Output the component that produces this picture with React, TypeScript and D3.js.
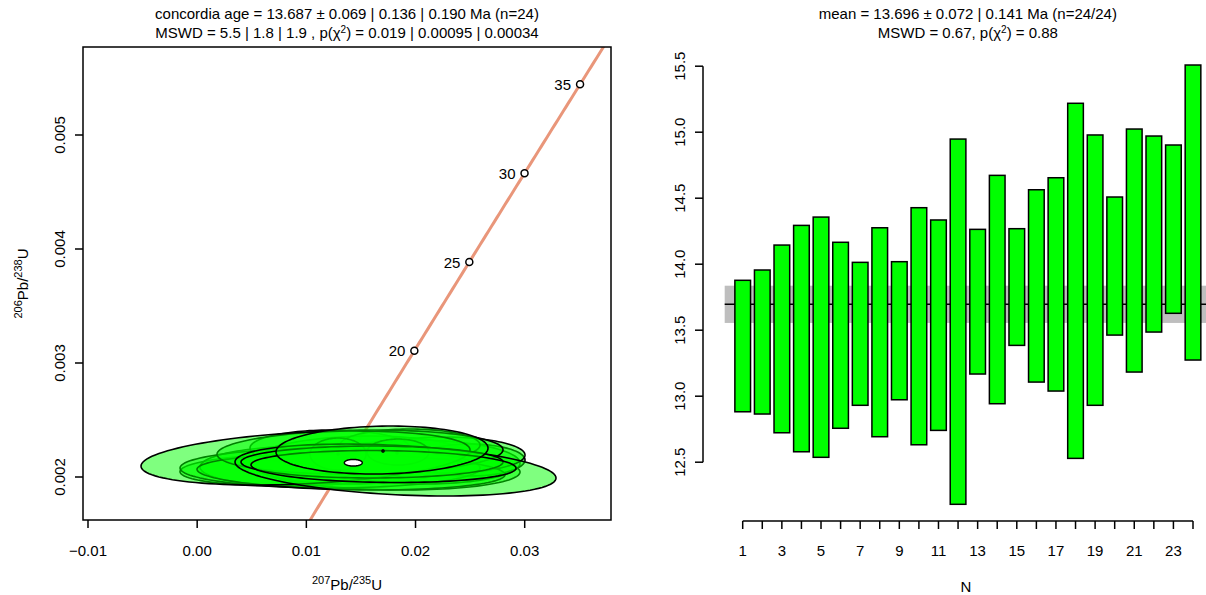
import React, { useRef, useEffect } from "react";
import * as d3 from "d3";

const W = 1206;
const H = 595;
const FONT = "'Liberation Sans', Arial, Helvetica, sans-serif";
const FS = 15;

// concordia panel: 24 aliquots (207Pb/235U, 206Pb/238U), 95% half-widths, error correlation
const pb7u5 = [0.008503, 0.009419, 0.017664, 0.014915, 0.020412, 0.024991, 0.022701, 0.012168, 0.019495, 0.009877, 0.015648, 0.012168, 0.014091, 0.014915, 0.0129, 0.018396, 0.0129, 0.018305, 0.009923, 0.018167, 0.016015, 0.017068, 0.016931, 0.017022];
const pb7u5Err = [0.010076, 0.00916, 0.011908, 0.010076, 0.00916, 0.005038, 0.007328, 0.007328, 0.006412, 0.00009, 0.00009, 0.01374, 0.014107, 0.013099, 0.002565, 0.00284, 0.00009, 0.00009, 0.015068, 0.014702, 0.012, 0.012137, 0.00971, 0.00009];
const pb6u8 = [0.0020613, 0.0020964, 0.0020613, 0.0021489, 0.0021314, 0.0021489, 0.0021928, 0.0022541, 0.0022804, 0.0021489, 0.0021665, 0.0020789, 0.0020438, 0.002219, 0.0022015, 0.002219, 0.0022015, 0.0022103, 0.0021665, 0.0020613, 0.0021314, 0.002092, 0.0022366, 0.0022278];
const pb6u8Err = [0.0001402, 0.0001752, 0.0001752, 0.0002103, 0.0001928, 0.0001402, 0.0001577, 0.0001577, 0.0001402, 0.000009, 0.000009, 0.0001752, 0.0001577, 0.0001928, 0.0001402, 0.0001139, 0.000009, 0.000009, 0.0002366, 0.0002278, 0.0001402, 0.0001402, 0.0002103, 0.000009];
const rho = [0.1, 0.05, -0.1, 0.1, -0.05, 0, 0, 0, 0, 0, 0, 0, -0.15, 0.1, 0, 0, 0, 0, 0.3, -0.31, 0, -0.1, 0.08, 0];

// concordia age ellipse: x, sx, y, sy
const ageEllipse = [0.0143, 0.00082, 0.002125, 0.000029];
const ageTicks = [20, 25, 30, 35];
const xTicksL = [-0.01, 0, 0.01, 0.02, 0.03];
const xLabelsL = ["\u22120.01", "0.00", "0.01", "0.02", "0.03"];
const yTicksL = [0.002, 0.003, 0.004, 0.005];
const yLabelsL = ["0.002", "0.003", "0.004", "0.005"];

// weighted mean panel
const ageLo = [12.882, 12.865, 12.723, 12.579, 12.537, 12.757, 12.931, 12.693, 12.973, 12.632, 12.741, 12.181, 13.168, 12.943, 13.385, 13.107, 13.039, 12.529, 12.931, 13.463, 13.183, 13.486, 13.628, 13.274];
const ageHi = [13.878, 13.956, 14.145, 14.294, 14.357, 14.166, 14.014, 14.276, 14.019, 14.428, 14.335, 14.948, 14.264, 14.673, 14.269, 14.564, 14.655, 15.219, 14.979, 14.509, 15.024, 14.971, 14.903, 15.509];
const meanAge = 13.696;
const meanErr = 0.141;
const yTicksR = [12.5, 13.0, 13.5, 14.0, 14.5, 15.0, 15.5];
const nLabels = [1, 3, 5, 7, 9, 11, 13, 15, 17, 19, 21, 23];

const L238 = 1.55125e-10;
const L235 = 9.8485e-10;

type Part = [string, boolean];

function rich(sel: any, parts: Part[], supSize: number, rise: number) {
  let up = false;
  parts.forEach(([s, sup]) => {
    const t = sel.append("tspan").text(s);
    if (sup && !up) t.attr("dy", -rise).attr("font-size", supSize);
    else if (sup) t.attr("font-size", supSize);
    else if (up) t.attr("dy", rise);
    up = sup;
  });
}

const App = () => {
  const svgRef = useRef<SVGSVGElement>(null);

  useEffect(() => {
    const svg = d3.select(svgRef.current);
    svg.selectAll("*").remove();
    svg.append("rect").attr("width", W).attr("height", H).attr("fill", "white");

    // ---------------- left: concordia ----------------
    const box = { x0: 83, x1: 611, y0: 47, y1: 520 };
    const x = d3.scaleLinear().domain([-0.01, 0.03]).range([88, 524.7]);
    const y = d3.scaleLinear().domain([0.002, 0.005]).range([477, 135]);

    svg.append("clipPath").attr("id", "clipL")
      .append("rect").attr("x", box.x0).attr("y", box.y0)
      .attr("width", box.x1 - box.x0).attr("height", box.y1 - box.y0);

    const plot = svg.append("g").attr("clip-path", "url(#clipL)");

    const ages = d3.range(0, 50.01, 0.25);
    const curve = d3.line<number>()
      .x(t => x(Math.exp(t * 1e6 * L235) - 1))
      .y(t => y(Math.exp(t * 1e6 * L238) - 1));
    plot.append("path").attr("d", curve(ages))
      .attr("fill", "none").attr("stroke", "#E9967A").attr("stroke-width", 3);

    ageTicks.forEach(t => {
      const px = x(Math.exp(t * 1e6 * L235) - 1);
      const py = y(Math.exp(t * 1e6 * L238) - 1);
      plot.append("circle").attr("cx", px).attr("cy", py).attr("r", 3.5)
        .attr("fill", "white").attr("stroke", "black").attr("stroke-width", 1.5);
      plot.append("text").attr("x", px - 9).attr("y", py)
        .attr("text-anchor", "end").attr("dominant-baseline", "central")
        .attr("font-family", FONT).attr("font-size", FS).text(t);
    });

    const theta = d3.range(0, 2 * Math.PI, Math.PI / 60);
    const ell = (cx: number, sx: number, cy: number, sy: number, r: number) =>
      d3.line<number>().curve(d3.curveLinearClosed)
        .x(t => x(cx + sx * Math.cos(t)))
        .y(t => y(cy + sy * (r * Math.cos(t) + Math.sqrt(1 - r * r) * Math.sin(t))))(theta);

    pb7u5.forEach((_, i) => {
      plot.append("path")
        .attr("d", ell(pb7u5[i], pb7u5Err[i], pb6u8[i], pb6u8Err[i], rho[i]))
        .attr("fill", "rgba(0,255,0,0.5)")
        .attr("stroke", "black").attr("stroke-width", 1.6);
    });

    plot.append("path")
      .attr("d", ell(ageEllipse[0], ageEllipse[1], ageEllipse[2], ageEllipse[3], 0))
      .attr("fill", "white").attr("stroke", "black").attr("stroke-width", 1.5);

    svg.append("rect").attr("x", box.x0).attr("y", box.y0)
      .attr("width", box.x1 - box.x0).attr("height", box.y1 - box.y0)
      .attr("fill", "none").attr("stroke", "black").attr("stroke-width", 1.5);

    // x axis
    xTicksL.forEach((v, i) => {
      svg.append("line").attr("x1", x(v)).attr("x2", x(v))
        .attr("y1", box.y1).attr("y2", box.y1 + 8).attr("stroke", "black").attr("stroke-width", 1.5);
      svg.append("text").attr("x", x(v)).attr("y", 556)
        .attr("text-anchor", "middle").attr("font-family", FONT).attr("font-size", FS)
        .text(xLabelsL[i]);
    });
    // y axis
    yTicksL.forEach((v, i) => {
      svg.append("line").attr("x1", box.x0 - 8).attr("x2", box.x0)
        .attr("y1", y(v)).attr("y2", y(v)).attr("stroke", "black").attr("stroke-width", 1.5);
      svg.append("text")
        .attr("transform", `translate(${box.x0 - 18},${y(v)}) rotate(-90)`)
        .attr("text-anchor", "middle").attr("font-family", FONT).attr("font-size", FS)
        .text(yLabelsL[i]);
    });

    const xt = svg.append("text").attr("x", (box.x0 + box.x1) / 2).attr("y", 590)
      .attr("text-anchor", "middle").attr("font-family", FONT).attr("font-size", FS);
    rich(xt, [["207", true], ["Pb/", false], ["235", true], ["U", false]], 11, 6);

    const yt = svg.append("text")
      .attr("transform", `translate(28,${(box.y0 + box.y1) / 2}) rotate(-90)`)
      .attr("text-anchor", "middle").attr("font-family", FONT).attr("font-size", FS);
    rich(yt, [["206", true], ["Pb/", false], ["238", true], ["U", false]], 11, 6);

    const cxL = (box.x0 + box.x1) / 2;
    svg.append("text").attr("x", cxL).attr("y", 19)
      .attr("text-anchor", "middle").attr("font-family", FONT).attr("font-size", FS)
      .text("concordia age = 13.687 \u00b1 0.069 | 0.136 | 0.190 Ma (n=24)");
    const t2 = svg.append("text").attr("x", cxL).attr("y", 38)
      .attr("text-anchor", "middle").attr("font-family", FONT).attr("font-size", FS);
    rich(t2, [["MSWD = 5.5 | 1.8 | 1.9 , p(\u03c7", false], ["2", true], [") = 0.019 | 0.00095 | 0.00034", false]], 10, 5);

    // ---------------- right: weighted mean ----------------
    const xn = d3.scaleLinear().domain([1, 24]).range([742.7, 1193]);
    const ya = d3.scaleLinear().domain([12.5, 15.5]).range([462.2, 66.2]);
    const left = xn(0.08);
    const right = xn(24.92);

    svg.append("rect").attr("x", left).attr("width", right - left)
      .attr("y", ya(meanAge + meanErr)).attr("height", ya(meanAge - meanErr) - ya(meanAge + meanErr))
      .attr("fill", "#BEBEBE");
    svg.append("line").attr("x1", left).attr("x2", right)
      .attr("y1", ya(meanAge)).attr("y2", ya(meanAge))
      .attr("stroke", "black").attr("stroke-width", 1.5);

    ageLo.forEach((lo, i) => {
      const n = i + 1;
      svg.append("rect").attr("x", xn(n - 0.4)).attr("width", xn(n + 0.4) - xn(n - 0.4))
        .attr("y", ya(ageHi[i])).attr("height", ya(lo) - ya(ageHi[i]))
        .attr("fill", "#00FF00").attr("stroke", "black").attr("stroke-width", 1.5);
    });

    const axY = 521;
    svg.append("line").attr("x1", xn(1)).attr("x2", xn(24)).attr("y1", axY).attr("y2", axY)
      .attr("stroke", "black").attr("stroke-width", 1.5);
    d3.range(1, 25).forEach(n => {
      svg.append("line").attr("x1", xn(n)).attr("x2", xn(n)).attr("y1", axY).attr("y2", axY + 8)
        .attr("stroke", "black").attr("stroke-width", 1.5);
    });
    nLabels.forEach(n => {
      svg.append("text").attr("x", xn(n)).attr("y", 556)
        .attr("text-anchor", "middle").attr("font-family", FONT).attr("font-size", FS).text(n);
    });
    svg.append("text").attr("x", (left + right) / 2 - 2).attr("y", 592)
      .attr("text-anchor", "middle").attr("font-family", FONT).attr("font-size", FS).text("N");

    const axX = 703;
    svg.append("line").attr("x1", axX).attr("x2", axX).attr("y1", ya(12.5)).attr("y2", ya(15.5))
      .attr("stroke", "black").attr("stroke-width", 1.5);
    yTicksR.forEach(v => {
      svg.append("line").attr("x1", axX - 8).attr("x2", axX).attr("y1", ya(v)).attr("y2", ya(v))
        .attr("stroke", "black").attr("stroke-width", 1.5);
      svg.append("text")
        .attr("transform", `translate(${axX - 18},${ya(v)}) rotate(-90)`)
        .attr("text-anchor", "middle").attr("font-family", FONT).attr("font-size", FS)
        .text(v.toFixed(1));
    });

    const cxR = (left + right) / 2;
    svg.append("text").attr("x", cxR).attr("y", 19)
      .attr("text-anchor", "middle").attr("font-family", FONT).attr("font-size", FS)
      .text("mean = 13.696 \u00b1 0.072 | 0.141 Ma (n=24/24)");
    const r2 = svg.append("text").attr("x", cxR).attr("y", 38)
      .attr("text-anchor", "middle").attr("font-family", FONT).attr("font-size", FS);
    rich(r2, [["MSWD = 0.67, p(\u03c7", false], ["2", true], [") = 0.88", false]], 10, 5);
  }, []);

  return (
    <svg ref={svgRef} width={W} height={H}
      style={{ position: "absolute", left: 0, top: 0, display: "block" }} />
  );
};

export default App;
